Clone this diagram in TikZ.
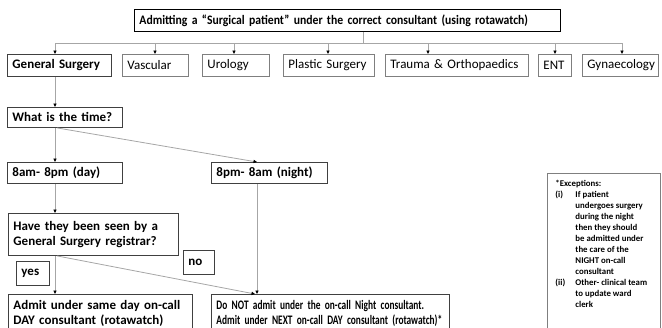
\documentclass[tikz,border=0pt]{standalone}
\usepackage{fontspec}
\setmainfont{Carlito}
\newfontfamily\titlefont{Carlito}[FakeStretch=0.9]
\newfontfamily\nextfont{Carlito}[FakeStretch=0.72]
\usetikzlibrary{arrows.meta}
\definecolor{linegray}{HTML}{A6A6A6}
\definecolor{boxgray}{HTML}{7F7F7F}
\definecolor{boxdark}{HTML}{404040}
\newcommand{\exitem}[2]{\makebox[20pt][l]{#1}#2}

\begin{document}
\begin{tikzpicture}[x=1pt,y=-1pt,
    box/.style={draw=boxgray, line width=0.9pt, anchor=north west, align=left, inner xsep=5pt, inner ysep=0pt, minimum height=22pt, font=\fontsize{13}{15}\selectfont},
    boldbox/.style={box, draw=boxdark, font=\fontsize{13}{15}\selectfont\bfseries},
    link/.style={draw=linegray, line width=0.8pt, -{Triangle[length=3.5pt,width=3.2pt,color=black]}},
    bus/.style={draw=linegray, line width=0.8pt}]
    \useasboundingbox (0,0) rectangle (662,327);
    \clip (0,0) rectangle (662,327);
    \node[boldbox, draw=black, text width=416pt, font=\fontsize{13}{15}\titlefont\bfseries] (title) at (134,9) {Admitting a “Surgical patient” under the correct consultant (using rotawatch)}; % title
    \node[boldbox, text width=94pt] (gensurg) at (7,54) {General Surgery};
    \node[box, text width=56pt] (vascular) at (122,54) {Vascular};
    \node[box, text width=57pt] (urology) at (202,54) {Urology};
    \node[box, text width=81pt] (plastic) at (283,54) {Plastic Surgery};
    \node[box, text width=133pt] (trauma) at (385,54) {Trauma \& Orthopaedics};
    \node[box, text width=23pt] (ent) at (538,54) {ENT};
    \node[box, text width=66pt] (gynae) at (582,54) {Gynaecology};
    \node[boldbox, text width=105pt, minimum height=20pt] (time) at (7,107) {What is the time?};
    \node[boldbox, text width=105pt, minimum height=21pt] (day) at (7,162) {8am- 8pm (day)};
    \node[boldbox, text width=106pt, minimum height=21pt] (night) at (211,162) {8pm- 8am (night)};
    \node[boldbox, text width=160pt, minimum height=42pt] (seen) at (8,213) {Have they been seen by a\\General Surgery registrar?};
    \node[boldbox, text width=23pt, minimum height=24pt] (yes) at (16,261) {yes};
    \node[boldbox, text width=21pt, minimum height=24pt] (no) at (183,250) {no};
    \node[boldbox, text width=174pt, minimum height=0pt, inner ysep=6pt] (sameday) at (8,294) {Admit under same day on-call\\DAY consultant (rotawatch)};
    \node[boldbox, text width=228pt, minimum height=0pt, inner ysep=6pt, font=\fontsize{13}{15}\nextfont\bfseries] (nextday) at (211,294) {Do NOT admit under the on-call Night consultant.\\Admit under NEXT on-call DAY consultant (rotawatch)*};
    \node[draw=boxgray, line width=0.9pt, anchor=north west, inner xsep=4pt, inner ysep=7pt, font=\fontsize{8.8}{11}\selectfont\bfseries] (except) at (547,173)
      {\parbox[c][160pt][t]{105pt}{\raggedright\leftskip=4pt
        *Exceptions:\\
        \exitem{(i)}{If patient}\\
        \exitem{}{undergoes surgery}\\
        \exitem{}{during the night}\\
        \exitem{}{then they should}\\
        \exitem{}{be admitted under}\\
        \exitem{}{the care of the}\\
        \exitem{}{NIGHT on-call}\\
        \exitem{}{consultant}\\
        \exitem{(ii)}{Other- clinical team}\\
        \exitem{}{to update ward}\\
        \exitem{}{clerk}}}; % exceptions

    \coordinate (busmid) at (363,43);
    \coordinate (colA) at (55,0);
    \coordinate (colB) at (257,0);
    \draw[bus] (title.south -| busmid) -- (busmid); % title to bus
    \draw[bus] (busmid -| 55,0) -- (busmid -| 622,0); % bus
    \foreach \n/\x in {gensurg/55, vascular/155, urology/234, plastic/328, trauma/428, ent/555, gynae/622}
      \draw[link] (busmid -| \x,0) -- (\n.north -| \x,0);
    \draw[link] (gensurg.south -| colA) -- (time.north -| colA);
    \draw[link] (time.south -| colA) -- (day.north -| colA); % day
    \draw[link] (time.south -| 57,0) -- (night.north -| colB); % night
    \draw[link] (day.south -| colA) -- (seen.north -| colA);
    \draw[link] (seen.south -| colA) -- (sameday.north -| colA); % yes
    \draw[link] (seen.south -| 57,0) -- (nextday.north -| 255,0); % no
    \draw[link] (night.south -| colB) -- (nextday.north -| colB);
  \end{tikzpicture}
\end{document}
